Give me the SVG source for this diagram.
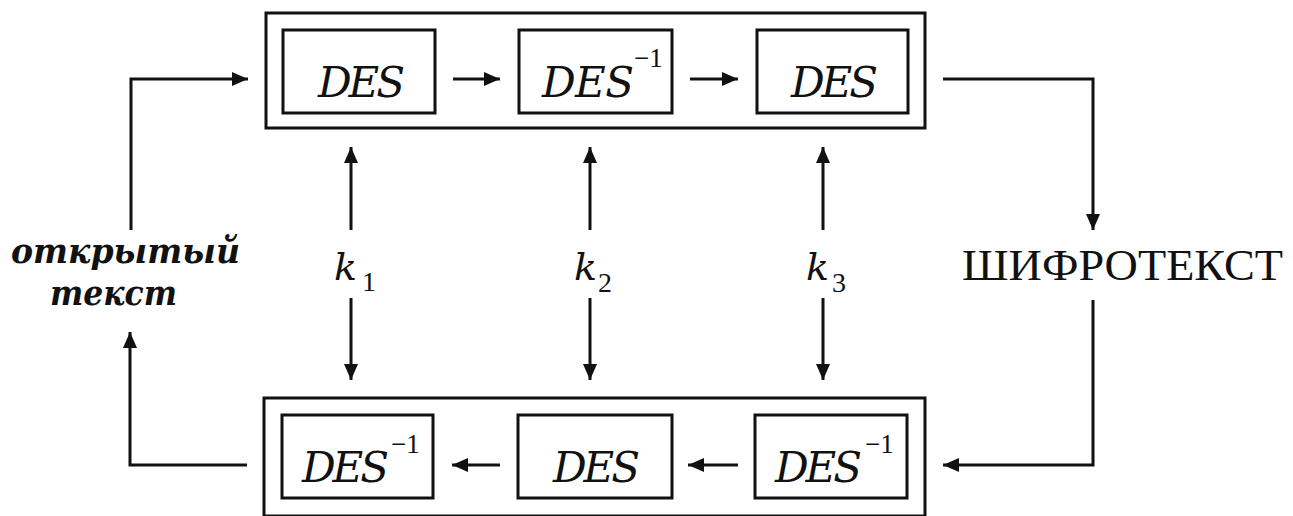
<svg xmlns="http://www.w3.org/2000/svg" width="1293" height="516" viewBox="0 0 1293 516">
<defs>
<marker id="ah" markerUnits="userSpaceOnUse" markerWidth="18" markerHeight="16" refX="16" refY="7" orient="auto">
<path d="M0,0 L16,7 L0,14 z" fill="#111"/>
</marker>
<style>
.box{fill:none;stroke:#111;stroke-width:3}
.ln{fill:none;stroke:#111;stroke-width:3}
text{fill:#111}
.des{font-family:'DejaVu Serif',serif;font-style:italic;font-size:42px}
.sup{font-family:'Liberation Serif',serif;font-size:27px}
.k{font-family:'DejaVu Serif',serif;font-style:italic;font-size:38px}
.sub{font-family:'Liberation Serif',serif;font-size:28px}
.lbl{font-family:'DejaVu Serif',serif;font-style:italic;font-weight:bold;font-size:36px}
.ct{font-family:'Liberation Serif',serif;font-size:44px}
</style>
</defs>
<rect width="1293" height="516" fill="#fff"/>

<g id="top-group">
<rect class="box" x="266" y="13" width="659" height="115"/>
</g>
<g id="top-des1">
<rect class="box" x="283" y="30" width="152" height="83"/>
<text class="des" x="318" y="97" textLength="87">DES</text>
</g>
<g id="top-desinv">
<rect class="box" x="519" y="30" width="153" height="83"/>
<text class="des" x="542" y="97" textLength="92">DES</text>
<text class="sup" x="634" y="67">−1</text>
</g>
<g id="top-des3">
<rect class="box" x="757" y="30" width="151" height="83"/>
<text class="des" x="791" y="97" textLength="87">DES</text>
</g>

<g id="bottom-group">
<rect class="box" x="264" y="398" width="661" height="118"/>
</g>
<g id="bot-desinv1">
<rect class="box" x="282" y="415" width="151" height="83"/>
<text class="des" x="302" y="482" textLength="87">DES</text>
<text class="sup" x="391" y="453">−1</text>
</g>
<g id="bot-des2">
<rect class="box" x="518" y="415" width="154" height="83"/>
<text class="des" x="553" y="482" textLength="87">DES</text>
</g>
<g id="bot-desinv3">
<rect class="box" x="755" y="415" width="152" height="83"/>
<text class="des" x="775" y="482" textLength="87">DES</text>
<text class="sup" x="865" y="453">−1</text>
</g>

<g id="plaintext">
<text class="lbl" x="11" y="263" textLength="229" lengthAdjust="spacingAndGlyphs">открытый</text>
<text class="lbl" x="50" y="305" textLength="127" lengthAdjust="spacingAndGlyphs">текст</text>
</g>
<g id="ciphertext">
<text class="ct" x="962" y="280" textLength="321" lengthAdjust="spacingAndGlyphs">ШИФРОТЕКСТ</text>
</g>
<g id="key1">
<text class="k" x="334" y="280">k</text><text class="sub" x="362" y="291">1</text>
</g>
<g id="key2">
<text class="k" x="574" y="280">k</text><text class="sub" x="598" y="292">2</text>
</g>
<g id="key3">
<text class="k" x="806" y="280">k</text><text class="sub" x="832" y="292">3</text>
</g>

<g id="connectors">
<line class="ln" x1="453" y1="79" x2="500" y2="79" marker-end="url(#ah)"/>
<line class="ln" x1="690" y1="79" x2="738" y2="79" marker-end="url(#ah)"/>
<polyline class="ln" points="943,79 1093,79 1093,230" marker-end="url(#ah)"/>
<polyline class="ln" points="1093,300 1093,465 943,465" marker-end="url(#ah)"/>
<line class="ln" x1="500" y1="465" x2="452" y2="465" marker-end="url(#ah)"/>
<line class="ln" x1="738" y1="465" x2="688" y2="465" marker-end="url(#ah)"/>
<polyline class="ln" points="247,465 130,465 130,332" marker-end="url(#ah)"/>
<polyline class="ln" points="131,230 131,79 248,79" marker-end="url(#ah)"/>
<line class="ln" x1="351" y1="230" x2="351" y2="147" marker-end="url(#ah)"/>
<line class="ln" x1="351" y1="298" x2="351" y2="380" marker-end="url(#ah)"/>
<line class="ln" x1="590" y1="230" x2="590" y2="147" marker-end="url(#ah)"/>
<line class="ln" x1="590" y1="298" x2="590" y2="380" marker-end="url(#ah)"/>
<line class="ln" x1="823" y1="230" x2="823" y2="147" marker-end="url(#ah)"/>
<line class="ln" x1="823" y1="298" x2="823" y2="380" marker-end="url(#ah)"/>
</g>
</svg>
